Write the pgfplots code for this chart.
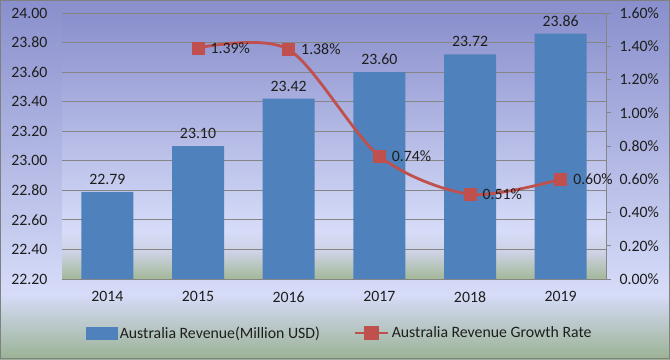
\documentclass[border=0pt]{standalone}
\usepackage{fontspec}
\setmainfont{Carlito}
\usepackage{pgfplots}
\pgfplotsset{compat=1.18}
\definecolor{barblue}{RGB}{79,129,189}
\definecolor{linered}{RGB}{192,80,77}
\definecolor{gridgray}{RGB}{134,134,134}
\definecolor{topc}{RGB}{137,143,204}
\definecolor{lightc}{RGB}{214,220,248}
\definecolor{lightg}{RGB}{205,210,228}
\definecolor{greenc}{RGB}{154,178,148}
\definecolor{pgreen}{RGB}{163,184,152}
\definecolor{txt}{RGB}{30,30,30}
\pgfdeclareverticalshading{outerbg}{100bp}{color(0bp)=(greenc); color(25bp)=(greenc); color(34bp)=(lightc); color(75bp)=(topc); color(100bp)=(topc)}
\pgfdeclareverticalshading{plotbg}{100bp}{color(0bp)=(pgreen); color(25bp)=(pgreen); color(30bp)=(lightg); color(34bp)=(lightc); color(75bp)=(topc); color(100bp)=(topc)}
\newcommand\cf{\fontsize{15.8bp}{18bp}\selectfont}
\begin{document}
\begin{tikzpicture}[x=1bp,y=1bp]
\shade[shading=outerbg] (0,0) rectangle (670,359);
\draw[gray, line width=1bp] (0.5,0.5) rectangle (669.5,358.5);
\begin{axis}[
  at={(62bp,80bp)}, anchor=south west, scale only axis,
  width=544bp, height=266bp,
  xmin=-0.5, xmax=5.5, ymin=22.2, ymax=24.0,
  axis background/.style={shading=plotbg},
  ytick={22.2,22.4,22.6,22.8,23.0,23.2,23.4,23.6,23.8,24.0},
  xtick={0,1,2,3,4,5},
  xticklabels={2014,2015,2016,2017,2018,2019},
  axis x line*=bottom, axis y line*=left,
  y axis line style={draw=none},
  x axis line style={gridgray, line width=0.8bp},
  major tick length=0pt,
  ymajorgrids, grid style={gridgray, line width=0.8bp},
  /pgf/number format/assume math mode=true,
  yticklabel style={/pgf/number format/.cd, fixed, fixed zerofill, precision=2, /tikz/.cd, font=\cf, text=txt, xshift=-11bp},
  xticklabel style={font=\cf, text=txt, yshift=-9bp},
]
\addplot[ybar, bar width=52bp, bar shift=0pt, fill=barblue, draw=none,
  nodes near coords,
  every node near coord/.append style={font=\cf, text=txt, anchor=south, yshift=4bp,
    /pgf/number format/.cd, fixed, fixed zerofill, precision=2, assume math mode=true}]
  coordinates {(0,22.79) (1,23.10) (2,23.42) (3,23.60) (4,23.72) (5,23.86)};
\end{axis}
\begin{axis}[
  at={(62bp,80bp)}, anchor=south west, scale only axis,
  width=544bp, height=266bp,
  xmin=-0.5, xmax=5.5, ymin=0, ymax=1.6,
  clip=false,
  axis x line=none, axis y line*=right,
  y axis line style={gridgray, line width=0.8bp},
  ytick={0,0.2,0.4,0.6,0.8,1.0,1.2,1.4,1.6},
  tick align=outside, major tick length=5bp,
  ytick style={gridgray, line width=0.8bp},
  yticklabel={\pgfmathprintnumber[fixed,fixed zerofill,precision=2,assume math mode=true]{\tick}\%},
  yticklabel style={font=\cf, text=txt, xshift=5bp},
  legend style={at={(0.511,-0.203)}, anchor=center, draw=none, fill=none, font=\cf, text=txt,
    /tikz/every even column/.append style={column sep=32bp}},
  legend columns=2,
]
\addlegendimage{legend image code/.code={\fill[barblue] (0bp,-6bp) rectangle (31bp,6bp);}}
\addlegendentry{Australia Revenue(Million USD)}
\addplot[linered, line width=2.8bp, smooth, mark=square*, mark size=6bp,
  mark options={line width=0.5bp, fill=linered},
  legend image code/.code={\draw[linered, line width=2.8bp] (0bp,0bp) -- (33bp,0bp);
     \fill[linered] (10.5bp,-6bp) rectangle (22.5bp,6bp);},
  nodes near coords={\pgfmathprintnumber[fixed,fixed zerofill,precision=2,assume math mode=true]{\pgfplotspointmeta}\%},
  every node near coord/.append style={font=\cf, text=txt, anchor=west, xshift=9bp}]
  coordinates {(1,1.39) (2,1.38) (3,0.74) (4,0.51) (5,0.60)};
\addlegendentry{Australia Revenue Growth Rate}
\end{axis}
\end{tikzpicture}
\end{document}
